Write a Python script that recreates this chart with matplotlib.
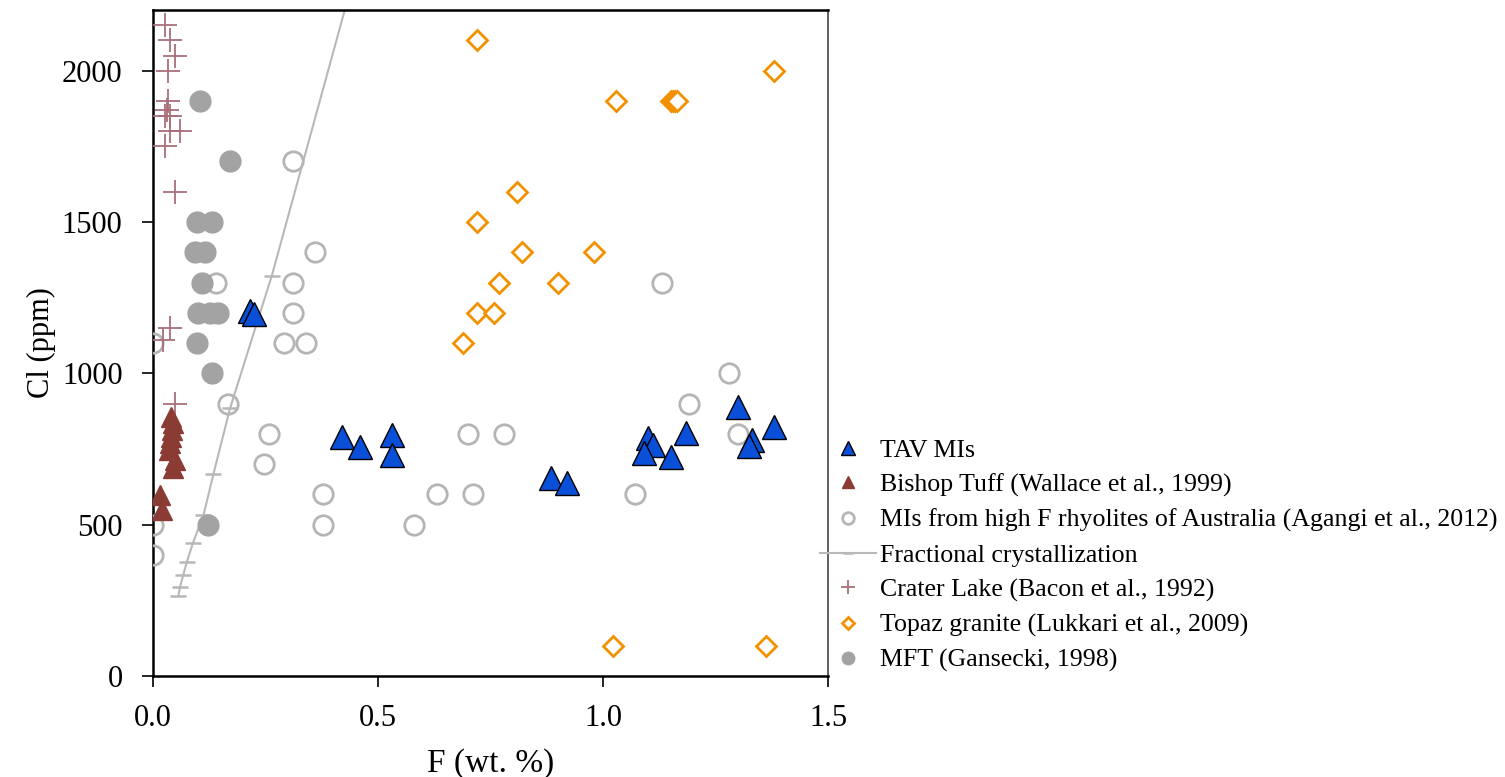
import numpy as np
import matplotlib.pyplot as plt
from matplotlib.ticker import FormatStrFormatter

plt.rcParams['font.family'] = ['Liberation Serif', 'DejaVu Serif']

# TAV melt inclusions
tav_f = [0.215, 0.225, 0.42, 0.46, 0.53, 0.53, 0.885, 0.92, 1.10, 1.11, 1.09,
         1.15, 1.185, 1.30, 1.33, 1.325, 1.38]
tav_cl = [1205, 1195, 790, 755, 795, 730, 655, 637, 786, 762, 736,
          723, 802, 888, 779, 760, 822]

# Bishop Tuff (Wallace et al., 1999)
bishop_f = [0.04, 0.045, 0.042, 0.04, 0.038, 0.035, 0.048, 0.045, 0.015, 0.02]
bishop_cl = [855, 835, 812, 790, 770, 745, 713, 688, 598, 550]

# MIs from high F rhyolites of Australia (Agangi et al., 2012)
agangi_f = [0.0, 0.0, 0.0, 0.14, 0.166, 0.31, 0.36, 0.31, 0.31, 0.29, 0.34,
            0.257, 0.246, 0.377, 0.377, 0.58, 0.63, 0.71, 0.70, 0.78, 1.07,
            1.19, 1.28, 1.30, 1.13]
agangi_cl = [1100, 500, 400, 1300, 900, 1700, 1400, 1300, 1200, 1100, 1100,
             800, 700, 600, 500, 500, 600, 600, 800, 800, 600,
             900, 1000, 800, 1300]

# Fractional crystallization model
frac_f = [0.056, 0.060, 0.067, 0.075, 0.089, 0.112, 0.134, 0.171, 0.264, 0.45]
frac_cl = [264, 295, 333, 377, 441, 531, 666, 884, 1323, 2330]

# Crater Lake (Bacon et al., 1992)
crater_f = [0.027, 0.038, 0.049, 0.033, 0.033, 0.031, 0.038, 0.027, 0.060,
            0.038, 0.027, 0.049, 0.038, 0.022, 0.049]
crater_cl = [2150, 2100, 2050, 2000, 1900, 1870, 1850, 1850, 1800,
             1800, 1750, 1600, 1150, 1110, 900]

# Topaz granite (Lukkari et al., 2009)
topaz_f = [0.72, 1.028, 1.150, 1.155, 1.160, 1.165, 1.38, 0.808, 0.72, 0.819,
           0.979, 0.769, 0.899, 0.72, 0.758, 0.688, 1.021, 1.361]
topaz_cl = [2100, 1900, 1900, 1900, 1900, 1900, 2000, 1600, 1500, 1400,
            1400, 1300, 1300, 1200, 1200, 1100, 100, 100]

# MFT (Gansecki, 1998)
mft_f = [0.104, 0.171, 0.097, 0.130, 0.093, 0.115, 0.108, 0.100, 0.126,
         0.145, 0.097, 0.130, 0.123]
mft_cl = [1900, 1700, 1500, 1500, 1400, 1400, 1300, 1200, 1200,
          1200, 1100, 1000, 500]

fig = plt.figure(figsize=(15.05, 7.77), dpi=100)
ax = fig.add_axes([0.1017, 0.130, 0.4485, 0.857])

ax.plot(tav_f, tav_cl, ls='none', marker='^', ms=17, mfc='#0a4fd8',
        mec='black', mew=1.0, label='TAV MIs', zorder=6)
ax.plot(bishop_f, bishop_cl, ls='none', marker='^', ms=15, mfc='#8a3b34',
        mec='#8a3b34', mew=1.0, label='Bishop Tuff (Wallace et al., 1999)',
        zorder=5)
ax.plot(agangi_f, agangi_cl, ls='none', marker='o', ms=14, mfc='none',
        mec='#b5b5b5', mew=2.0,
        label='MIs from high F rhyolites of Australia (Agangi et al., 2012)',
        zorder=3)
ax.plot(frac_f, frac_cl, color='#b8b8b8', lw=1.5, marker='_', ms=12, mew=1.8,
        label='Fractional crystallization', zorder=2)
ax.plot(crater_f, crater_cl, ls='none', marker='+', ms=17, mec='#a8707a',
        mew=1.3, label='Crater Lake (Bacon et al., 1992)', zorder=4)
ax.plot(topaz_f, topaz_cl, ls='none', marker='D', ms=10, mfc='white',
        mec='#f29100', mew=2.0, label='Topaz granite (Lukkari et al., 2009)',
        zorder=4)
ax.plot(mft_f, mft_cl, ls='none', marker='o', ms=15, mfc='#a3a3a3',
        mec='#a3a3a3', label='MFT (Gansecki, 1998)', zorder=3)

ax.set_xlim(0, 1.5)
ax.set_ylim(0, 2200)
ax.set_xticks([0, 0.5, 1.0, 1.5])
ax.set_yticks([0, 500, 1000, 1500, 2000])
ax.xaxis.set_major_formatter(FormatStrFormatter('%.1f'))
ax.tick_params(direction='out', length=8, width=1.2, labelsize=22, pad=12)
ax.tick_params(axis='y', pad=14)
for side in ['left', 'bottom', 'top']:
    ax.spines[side].set_linewidth(1.8)
ax.spines['right'].set_linewidth(1.2)
ax.spines['right'].set_color('#444444')

ax.set_xlabel('F (wt. %)', fontsize=24, labelpad=11)
ax.set_ylabel('Cl (ppm)', fontsize=22, labelpad=4)

fig.legend(loc='upper left', bbox_to_anchor=(0.536, 0.452), frameon=False,
           fontsize=18.6, markerscale=0.6, handlelength=2.2, handletextpad=0.15,
           labelspacing=0.45, borderpad=0)

fig.savefig('out.png', dpi=100)
